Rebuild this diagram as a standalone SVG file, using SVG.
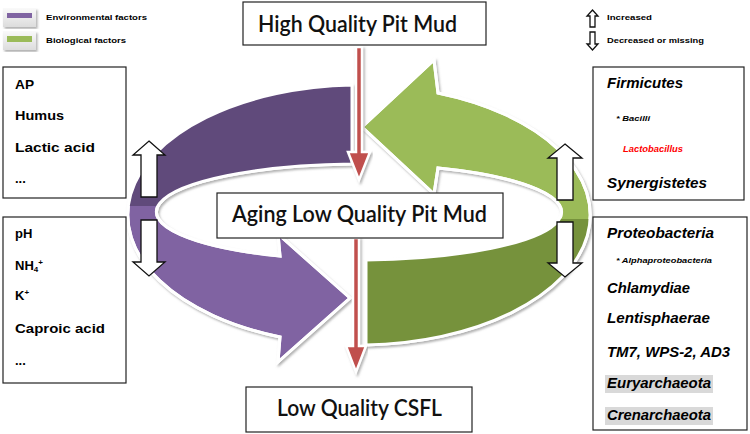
<svg xmlns="http://www.w3.org/2000/svg" width="750" height="434" viewBox="0 0 750 434">
<defs>
<style>
.box{fill:#fff;stroke:#222;stroke-width:1.2}
.lbl{font-family:Lato,"Liberation Sans",sans-serif;font-weight:600;font-size:22px;fill:#111}
.env{font-family:"Liberation Sans",Arial,sans-serif;font-weight:bold;font-size:13px;fill:#000}
.bio{font-family:"Liberation Sans",Arial,sans-serif;font-weight:bold;font-style:italic;font-size:14px;fill:#000}
.sm{font-family:"Liberation Sans",Arial,sans-serif;font-weight:bold;font-style:italic;fill:#000}
.leg{font-family:"Liberation Sans",Arial,sans-serif;font-weight:bold;font-size:8px;fill:#000}
.blk{fill:#fff;stroke:#111;stroke-width:1.3;stroke-linejoin:miter}
.ring{stroke:#fff;stroke-width:3;stroke-linejoin:miter;filter:url(#sh)}
.red{fill:#c0504d;stroke:#fff;stroke-width:2.5;filter:url(#sh)}
.hl{fill:#d9d9d9}
</style>
<filter id="sh" x="-10%" y="-10%" width="120%" height="120%">
<feDropShadow dx="1.5" dy="2" stdDeviation="1.2" flood-color="#7f7f7f" flood-opacity="0.6"/>
</filter>
<linearGradient id="btn" x1="0" y1="0" x2="0" y2="1">
<stop offset="0" stop-color="#fafafa"/><stop offset="1" stop-color="#dcdcdc"/>
</linearGradient>
<clipPath id="topHalf"><rect x="0" y="0" width="750" height="206"/></clipPath>
<clipPath id="botHalf"><rect x="0" y="219" width="750" height="215"/></clipPath>
<path id="purplePath" d="M352,85 A232,130 0 0 0 280,337 L278,362 L350,298 L278,234 L280,256 A205,48 0 0 1 352,164 Z"/>
<path id="greenPath" d="M366,260 L366,345 A232,130 0 0 0 438,93 L434,60 L362,127 L434,194 L438,168 A205,48 0 0 1 366,260 Z"/>
</defs>
<rect width="750" height="434" fill="#fff"/>

<g id="legend">
<rect x="3" y="8" width="33" height="19" fill="url(#btn)" filter="url(#sh)"/>
<rect x="7" y="13" width="25" height="5" fill="#8064a2"/>
<text class="leg" x="46" y="20" textLength="101" lengthAdjust="spacingAndGlyphs">Environmental factors</text>
<rect x="3" y="31" width="33" height="19" fill="url(#btn)" filter="url(#sh)"/>
<rect x="7" y="36" width="25" height="6" fill="#9bbb59"/>
<text class="leg" x="46" y="43" textLength="80" lengthAdjust="spacingAndGlyphs">Biological factors</text>
<polygon class="blk" stroke-width="1.2" points="592.5,10 598,16 595,16 595,27 590,27 590,16 587,16"/>
<text class="leg" x="607" y="20" textLength="45" lengthAdjust="spacingAndGlyphs">Increased</text>
<polygon class="blk" stroke-width="1.2" points="590,32 595,32 595,44 598,44 592.5,50 587,44 590,44"/>
<text class="leg" x="607" y="43" textLength="97" lengthAdjust="spacingAndGlyphs">Decreased or missing</text>
</g>

<g id="cycle">
<use href="#purplePath" class="ring" fill="#8064a2"/>
<use href="#purplePath" fill="#604a7b" clip-path="url(#topHalf)"/>
<use href="#purplePath" fill="none" stroke="#fff" stroke-width="3"/>
<use href="#greenPath" class="ring" fill="#9bbb59"/>
<use href="#greenPath" fill="#76923c" clip-path="url(#botHalf)"/>
<use href="#greenPath" fill="none" stroke="#fff" stroke-width="3"/>
</g>

<g id="connectors">
<polygon class="red" points="356,47 362,47 362,152 370,152 359,180 348,152 356,152"/>
<polygon class="red" points="353,238 359,238 359,346 366,346 356,372 346,346 353,346"/>
</g>

<g id="node-high">
<rect class="box" x="243" y="2" width="243" height="43"/>
<text class="lbl" x="258" y="32" textLength="199" lengthAdjust="spacingAndGlyphs">High Quality Pit Mud</text>
</g>
<g id="node-aging">
<rect class="box" x="217" y="193" width="286" height="45"/>
<text class="lbl" x="232" y="222" textLength="255" lengthAdjust="spacingAndGlyphs">Aging Low Quality Pit Mud</text>
</g>
<g id="node-csfl">
<rect class="box" x="246" y="387" width="226" height="45"/>
<text class="lbl" x="277" y="416" textLength="165" lengthAdjust="spacingAndGlyphs">Low Quality CSFL</text>
</g>

<g id="node-env-up">
<rect class="box" x="3" y="67" width="123" height="131"/>
<text class="env" x="15" y="89" textLength="19" lengthAdjust="spacingAndGlyphs">AP</text>
<text class="env" x="15" y="120" textLength="49" lengthAdjust="spacingAndGlyphs">Humus</text>
<text class="env" x="15" y="152" textLength="80" lengthAdjust="spacingAndGlyphs">Lactic acid</text>
<text class="env" x="15" y="183">...</text>
</g>
<g id="node-env-down">
<rect class="box" x="3" y="217" width="123" height="166"/>
<text class="env" x="15" y="238">pH</text>
<text class="env" x="15" y="270">NH<tspan font-size="8" dy="2">4</tspan><tspan font-size="8" dy="-7">+</tspan></text>
<text class="env" x="15" y="300">K<tspan font-size="8" dy="-5">+</tspan></text>
<text class="env" x="15" y="333" textLength="90" lengthAdjust="spacingAndGlyphs">Caproic acid</text>
<text class="env" x="15" y="365">...</text>
</g>

<g id="node-bio-up">
<rect class="box" x="593" y="67" width="151" height="133"/>
<text class="bio" x="607" y="88" textLength="76" lengthAdjust="spacingAndGlyphs">Firmicutes</text>
<text class="sm" x="616" y="121" font-size="8" textLength="34" lengthAdjust="spacingAndGlyphs">* Bacilli</text>
<text class="sm" x="623" y="152" font-size="9.5" style="fill:#ff0000" textLength="60" lengthAdjust="spacingAndGlyphs">Lactobacillus</text>
<text class="bio" x="607" y="188" textLength="100" lengthAdjust="spacingAndGlyphs">Synergistetes</text>
</g>
<g id="node-bio-down">
<rect class="box" x="593" y="217" width="154" height="213"/>
<rect class="hl" x="605" y="375" width="108" height="18"/>
<rect class="hl" x="605" y="407" width="108" height="18"/>
<text class="bio" x="607" y="238" textLength="107" lengthAdjust="spacingAndGlyphs">Proteobacteria</text>
<text class="sm" x="616" y="263" font-size="7.5" textLength="96" lengthAdjust="spacingAndGlyphs">* Alphaproteobacteria</text>
<text class="bio" x="607" y="293" textLength="83" lengthAdjust="spacingAndGlyphs">Chlamydiae</text>
<text class="bio" x="607" y="323" textLength="103" lengthAdjust="spacingAndGlyphs">Lentisphaerae</text>
<text class="bio" x="607" y="357" textLength="123" lengthAdjust="spacingAndGlyphs">TM7, WPS-2, AD3</text>
<text class="bio" x="607" y="388" textLength="104" lengthAdjust="spacingAndGlyphs">Euryarchaeota</text>
<text class="bio" x="607" y="420" textLength="104" lengthAdjust="spacingAndGlyphs">Crenarchaeota</text>
</g>

<g id="indicators">
<polygon class="blk" points="149,141 165,155 157,155 157,197 141,197 141,155 133,155"/>
<polygon class="blk" points="141,220 157,220 157,262 165,262 149,276 133,262 141,262"/>
<polygon class="blk" points="565,144 582,158 573,158 573,200 557,200 557,158 548,158"/>
<polygon class="blk" points="557,222 573,222 573,263 582,263 565,277 548,263 557,263"/>
</g>
</svg>
